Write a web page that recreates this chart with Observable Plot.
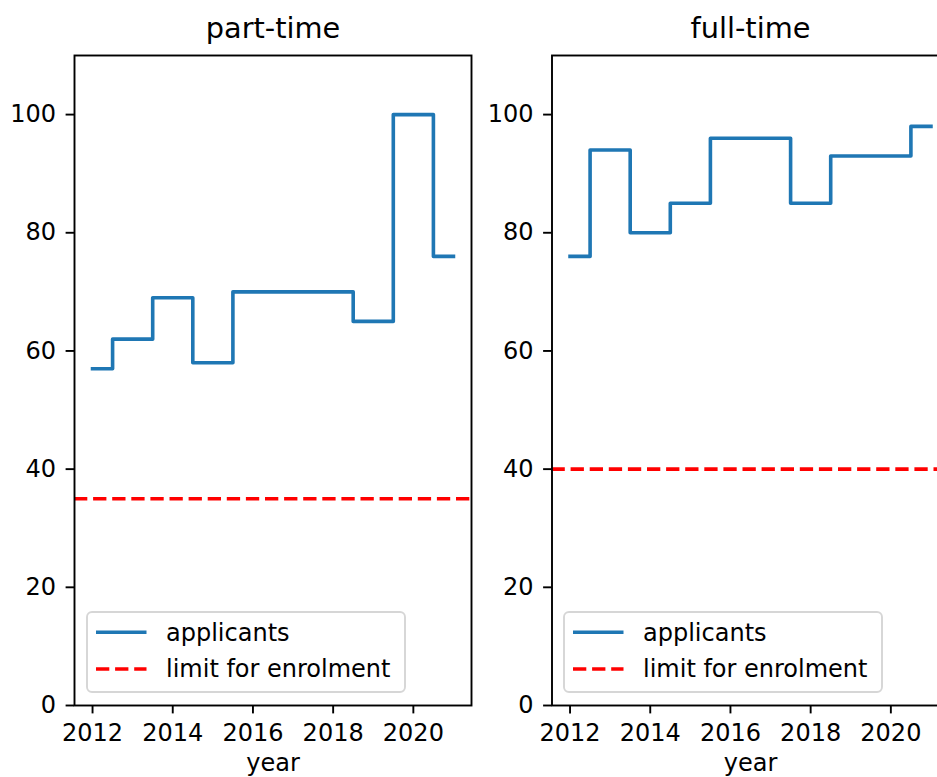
<!DOCTYPE html>
<html><head><meta charset="utf-8">
<script src="https://cdn.jsdelivr.net/npm/d3@7"></script>
<script src="https://cdn.jsdelivr.net/npm/@observablehq/plot@0.6"></script>
<style>
html,body{margin:0;padding:0;overflow:hidden;background:#fff;width:937px;height:777px;}
#root{position:relative;width:937px;height:777px;overflow:hidden;}
.panel{position:absolute;top:0;}
.legend{position:absolute;overflow:visible;}
</style></head><body><div id="root"></div>
<script>
const years = [2012, 2013, 2014, 2015, 2016, 2017, 2018, 2019, 2020, 2021];
const partTime = [57, 62, 69, 58, 70, 70, 70, 65, 100, 76];
const fullTime = [76, 94, 80, 85, 96, 96, 85, 93, 93, 98];
const limits = [35, 40];
const panelTitles = ["part-time", "full-time"];
const xTicks = [2012, 2014, 2016, 2018, 2020];
const yTicks = [0, 20, 40, 60, 80, 100];
const seriesLabels = ["applicants", "limit for enrolment"];
const xLabel = "year";

const FONT = "DejaVu Sans";
const FS = 24;
const BLUE = "#1f77b4";
const root = document.getElementById("root");

const span = d3.max(years) - d3.min(years);
const xDomain = [d3.min(years) - 0.05 * span, d3.max(years) + 0.05 * span];

function panel(title, values, limit, left, marginLeft, width) {
  const data = years.map((year, i) => ({year, value: values[i]}));
  const chart = Plot.plot({
    width, height: 777,
    marginTop: 55, marginBottom: 72, marginLeft, marginRight: 5,
    style: `font-family: '${FONT}'; font-size: ${FS}px; color: #000; background: transparent; max-width: none; overflow: visible;`,
    x: {domain: xDomain},
    y: {domain: [0, 110]},
    marks: [
      Plot.ruleY([limit], {stroke: "red", strokeWidth: 3.6, strokeDasharray: "13.3 5.8"}),
      Plot.lineY(data, {x: "year", y: "value", curve: "step", stroke: BLUE, strokeWidth: 3.6, strokeLinecap: "square", strokeLinejoin: "round"}),
      Plot.frame({strokeWidth: 1.9, stroke: "#000"}),
      Plot.axisX({ticks: xTicks, tickFormat: d => String(d), tickSize: 8.4, tickPadding: 9.6, label: null, strokeWidth: 1.9}),
      Plot.axisY({ticks: yTicks, tickFormat: d => String(d), tickSize: 8.4, tickPadding: 10, label: null, strokeWidth: 1.9}),
      Plot.text([title], {text: d => d, frameAnchor: "top", dy: -27, lineAnchor: "middle", fontSize: FS * 1.2}),
      Plot.text([xLabel], {text: d => d, frameAnchor: "bottom", dy: 57.5, lineAnchor: "middle"})
    ]
  });
  const wrap = document.createElement("div");
  wrap.className = "panel";
  wrap.style.left = left + "px";
  wrap.appendChild(chart);
  root.appendChild(wrap);

  // legend (matplotlib style box, lower left)
  const frameLeft = left + marginLeft;
  const svg = d3.select(root).append("svg")
    .attr("class", "legend")
    .attr("width", 322).attr("height", 84)
    .style("left", (frameLeft + 11.5) + "px")
    .style("top", "611px");
  svg.append("rect").attr("x", 1).attr("y", 1).attr("width", 318).attr("height", 80)
    .attr("rx", 5).attr("fill", "white").attr("fill-opacity", 0.8)
    .attr("stroke", "#d6d6d6").attr("stroke-width", 1.9);
  const rows = [
    {label: seriesLabels[0], stroke: BLUE, dash: null, y: 21.3},
    {label: seriesLabels[1], stroke: "red", dash: "13.3 5.8", y: 58}
  ];
  for (const r of rows) {
    svg.append("line").attr("x1", 10).attr("x2", 60.5).attr("y1", r.y).attr("y2", r.y)
      .attr("stroke", r.stroke).attr("stroke-width", 3.6)
      .attr("stroke-dasharray", r.dash);
    svg.append("text").attr("x", 80).attr("y", r.y + 8.3)
      .attr("font-family", FONT).attr("font-size", FS).attr("fill", "#000")
      .text(r.label);
  }
}

panel(panelTitles[0], partTime, limits[0], 0, 74, 476);
panel(panelTitles[1], fullTime, limits[1], 476, 75.5, 477.5);
</script></body></html>
